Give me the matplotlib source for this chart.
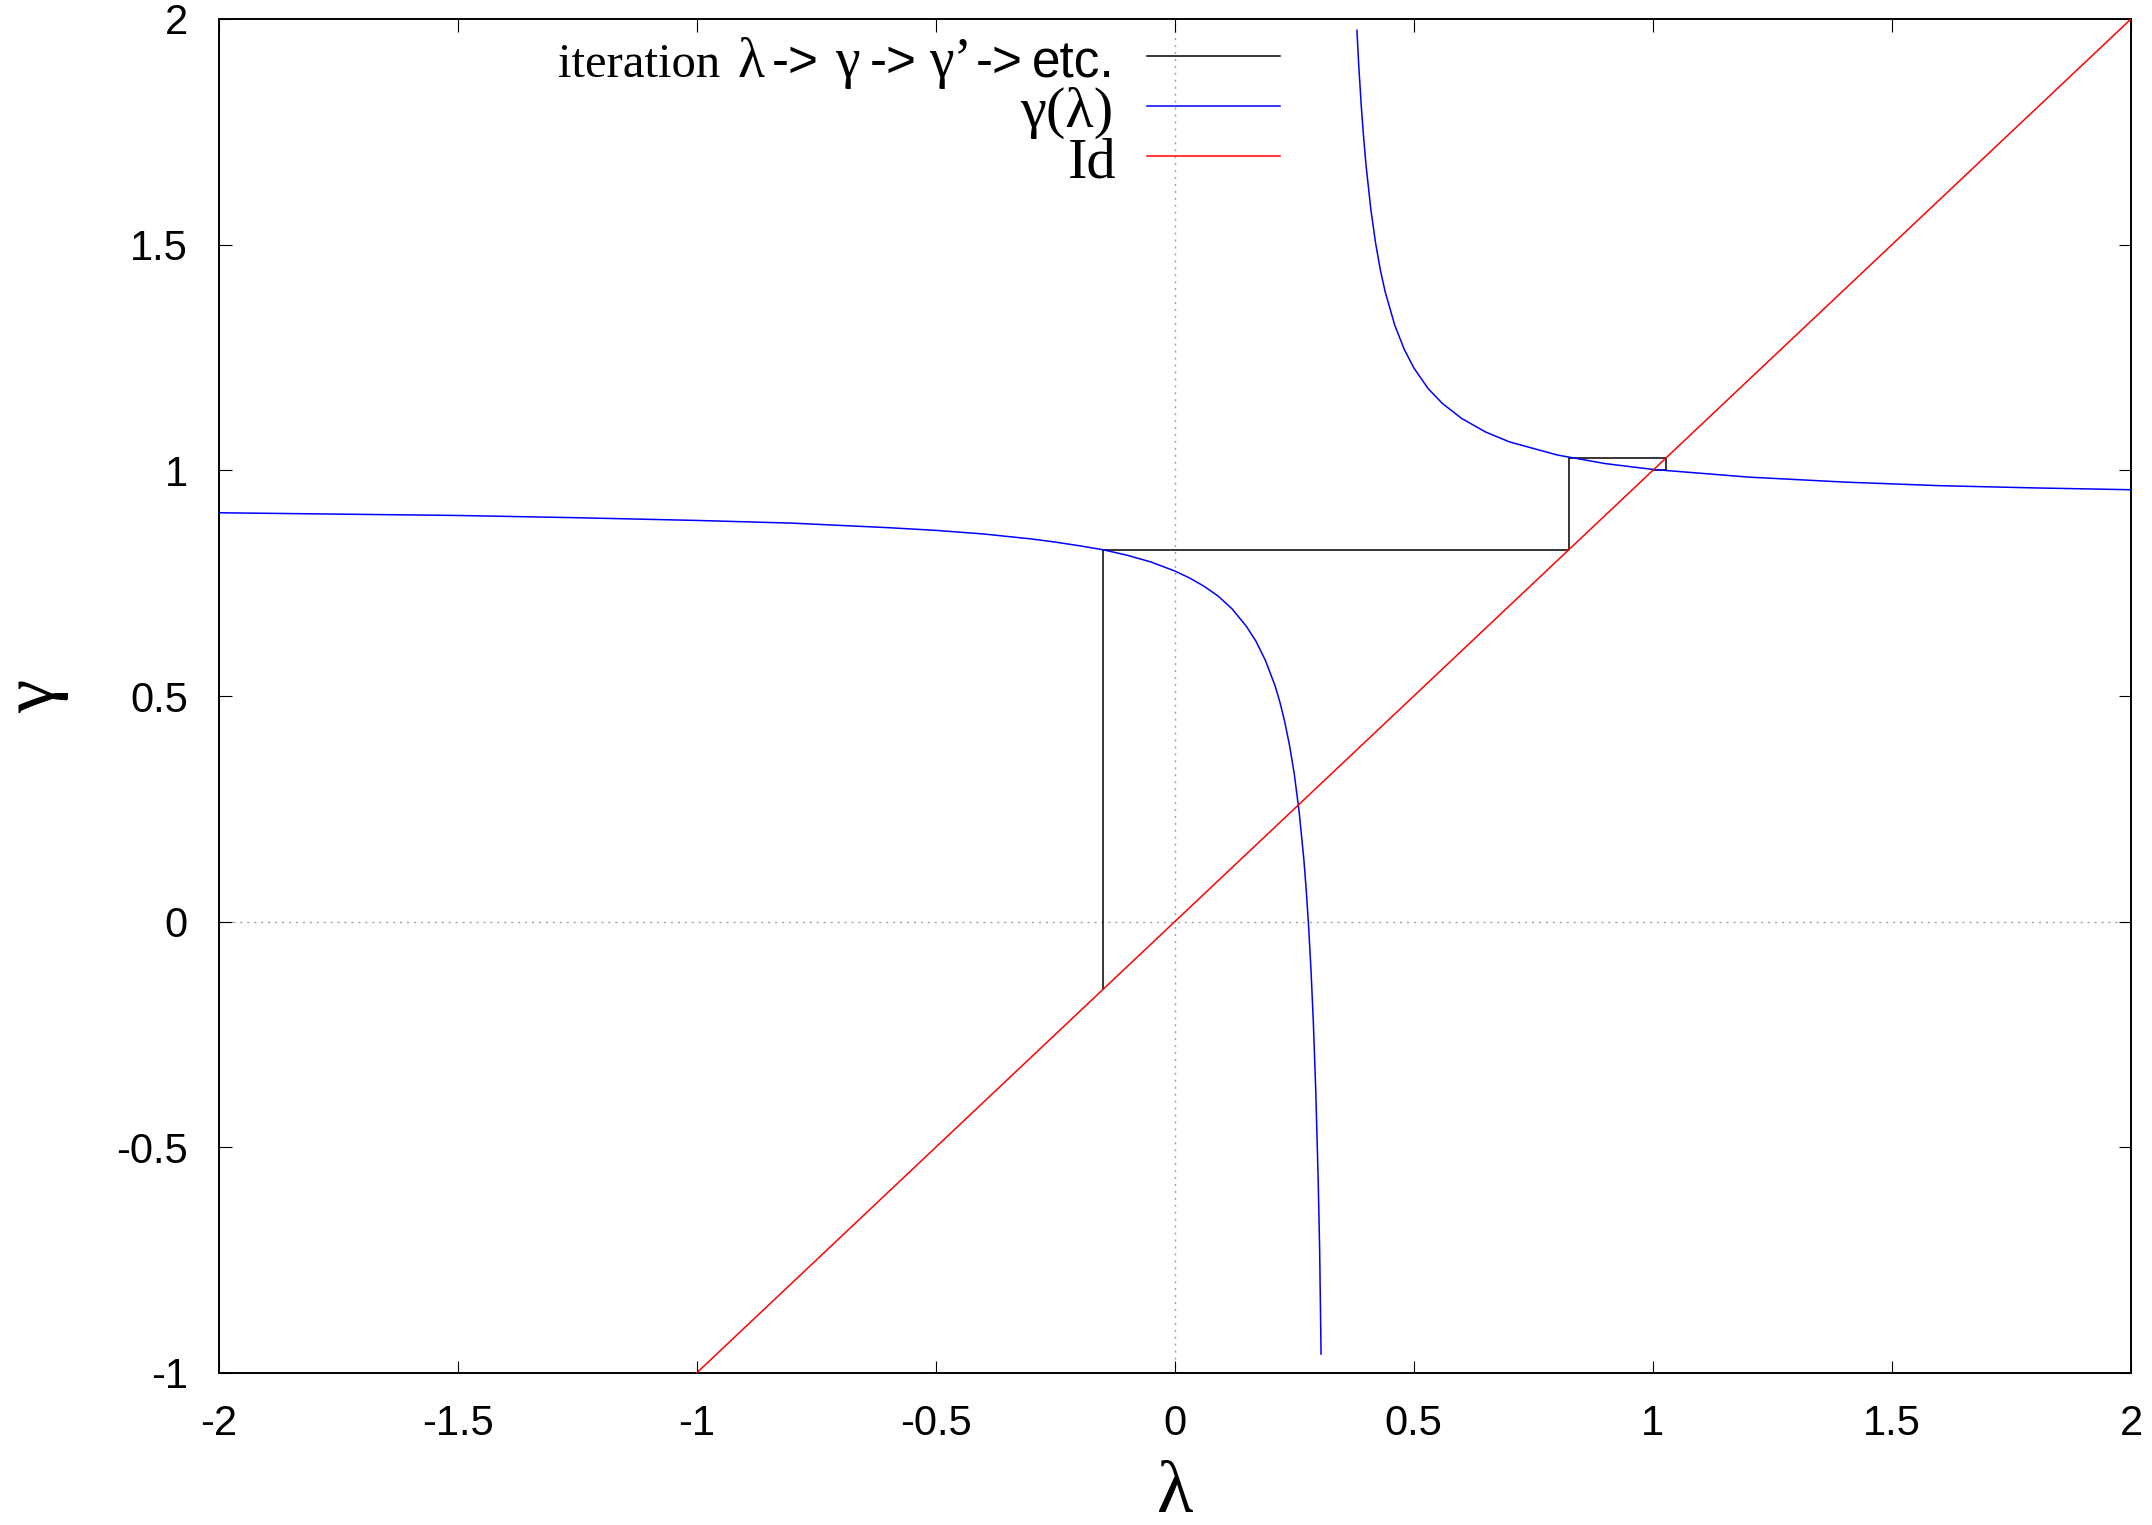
import matplotlib.pyplot as plt

plt.rcParams['font.family'] = 'Liberation Sans'

# iteration path lambda -> gamma -> gamma' -> ...
iter_lam = [-0.15, -0.15, 0.824, 0.824, 1.028, 1.028, 1.0]
iter_gam = [-0.15, 0.824, 0.824, 1.028, 1.028, 1.0, 1.0]

# gamma(lambda), branch left of the pole
low_lam = [-2.0, -1.75, -1.5, -1.25, -1.0, -0.8, -0.6, -0.5, -0.4, -0.3, -0.25, -0.2,
           -0.15, -0.1, -0.05, 0.0, 0.03, 0.06, 0.09, 0.12, 0.15, 0.17, 0.19, 0.21,
           0.22, 0.23, 0.24, 0.25, 0.26, 0.27, 0.275, 0.28, 0.285, 0.29, 0.295, 0.3,
           0.303, 0.306]
low_gam = [0.906, 0.903, 0.900, 0.895, 0.889, 0.883, 0.873, 0.867, 0.859, 0.848, 0.841, 0.833,
           0.824, 0.812, 0.797, 0.777, 0.762, 0.744, 0.722, 0.693, 0.654, 0.621, 0.578, 0.522,
           0.486, 0.443, 0.391, 0.327, 0.245, 0.138, 0.070, -0.011, -0.108, -0.227, -0.377, -0.573,
           -0.723, -0.958]

# gamma(lambda), branch right of the pole
up_lam = [0.381, 0.385, 0.39, 0.395, 0.4, 0.41, 0.42, 0.43, 0.44, 0.46, 0.48, 0.5, 0.53,
          0.56, 0.6, 0.65, 0.7, 0.8, 0.9, 1.0, 1.2, 1.4, 1.6, 1.8, 2.0]
up_gam = [1.975, 1.894, 1.809, 1.738, 1.677, 1.579, 1.504, 1.444, 1.396, 1.322, 1.268, 1.227, 1.181,
          1.148, 1.115, 1.085, 1.063, 1.034, 1.015, 1.002, 0.985, 0.974, 0.966, 0.961, 0.957]

# identity
id_lam = [-2.0, 2.0]
id_gam = [-2.0, 2.0]

W, H = 2152, 1525
fig = plt.figure(figsize=(W / 100, H / 100), dpi=100)
ax = fig.add_axes([218.5 / W, 1 - 1373 / H, (2131 - 218.5) / W, (1373 - 19) / H])

ax.axhline(0, color='#a0a0a0', lw=1.0, ls=(0, (1.5, 3.5)), zorder=1)
ax.axvline(0, color='#a0a0a0', lw=1.0, ls=(0, (1.5, 3.5)), zorder=1)

l_it, = ax.plot(iter_lam, iter_gam, color='black', lw=1.1, zorder=2)
l_g, = ax.plot(low_lam, low_gam, color='#0000ff', lw=1.1, zorder=3)
ax.plot(up_lam, up_gam, color='#0000ff', lw=1.1, zorder=3)
l_id, = ax.plot(id_lam, id_gam, color='#ff0000', lw=1.1, zorder=4)

ax.set_xlim(-2, 2)
ax.set_ylim(-1, 2)
ax.set_xticks([-2, -1.5, -1, -0.5, 0, 0.5, 1, 1.5, 2])
ax.set_yticks([-1, -0.5, 0, 0.5, 1, 1.5, 2])
ax.set_xticklabels(['-2', '-1.5', '-1', '-0.5', '0', '0.5', '1', '1.5', '2'])
ax.set_yticklabels(['-1', '-0.5', '0', '0.5', '1', '1.5', '2'])
ax.tick_params(direction='in', length=9, width=0.8, top=True, right=True, labelsize=30)
ax.tick_params(axis='x', pad=22)
ax.tick_params(axis='y', pad=22)
for sp in ax.spines.values():
    sp.set_linewidth(1.4)

ax.set_xlabel('λ', family='Liberation Serif', fontsize=54, labelpad=12)
ax.set_ylabel('γ', family='Liberation Serif', fontsize=54, labelpad=34)

# legend: only the sample lines, text is drawn by hand below (mixed fonts)
leg = ax.legend(handles=[l_it, l_g, l_id], labels=['', '', ''], loc='upper right',
                bbox_to_anchor=(1280 / W, 1 - 42 / H), bbox_transform=fig.transFigure,
                frameon=False, fontsize=10, handlelength=9.6, handleheight=5.15,
                handletextpad=0, borderpad=0, borderaxespad=0, labelspacing=0,
                markerfirst=False)

serif = dict(family='Liberation Serif', fontsize=35)
greek = dict(family='Liberation Serif', fontsize=40)
big = dict(family='Liberation Serif', fontsize=42)
sans = dict(family='Liberation Sans', fontsize=37)

r = fig.canvas.get_renderer()

# first row, placed right to left: (text, style, gap to the piece on its left)
row1 = [('etc.', sans, 9), ('->', sans, 4), ('γ\u2019', greek, 12), ('->', sans, 11),
        ('γ', greek, 16), ('->', sans, 7), ('λ', greek, 18), ('iteration', serif, 0)]
x = 1115
for s, st, gap in row1:
    t = fig.text(x / W, 1 - 77 / H, s, ha='right', va='baseline', **st)
    bb = t.get_window_extent(r)
    x = bb.x0 - gap

fig.text(1113 / W, 1 - 127 / H, 'γ(λ)', ha='right', va='baseline', **big)
fig.text(1117 / W, 1 - 178 / H, 'Id', ha='right', va='baseline', **big)

fig.savefig('out.png', dpi=100)
